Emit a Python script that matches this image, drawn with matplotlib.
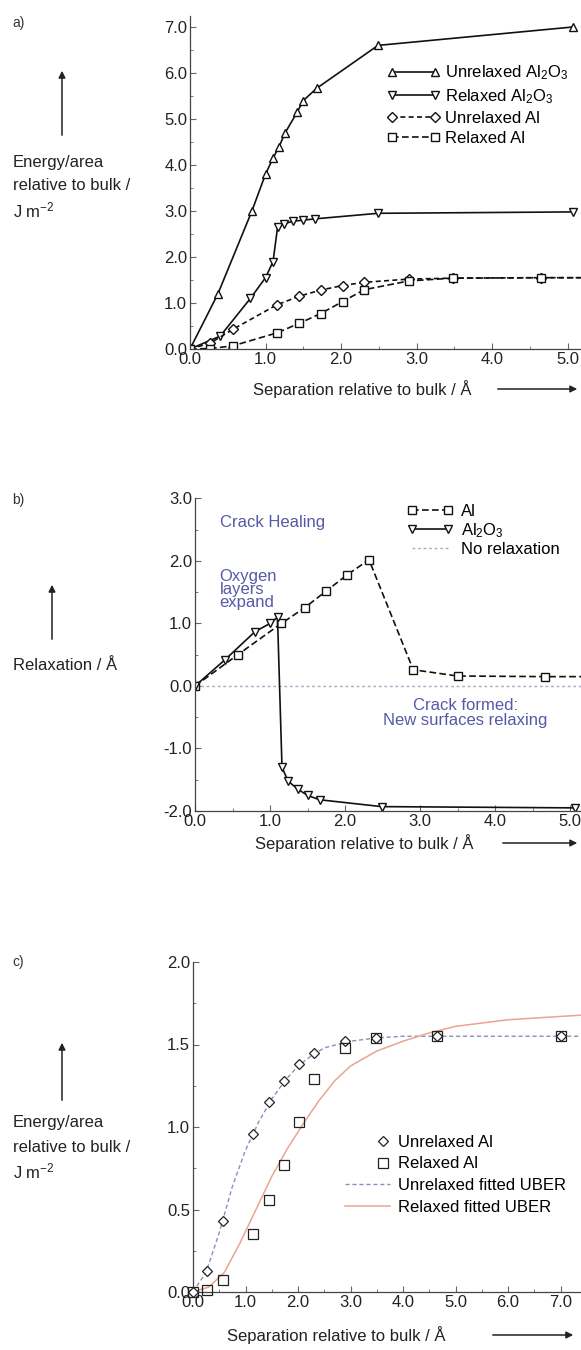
import matplotlib
matplotlib.use("Agg")
import matplotlib.pyplot as plt
import matplotlib.patches as mpatches
from matplotlib.lines import Line2D
from matplotlib.legend_handler import HandlerLine2D
from matplotlib.ticker import MultipleLocator, FormatStrFormatter

plt.rcParams['font.family'] = ['Liberation Sans', 'DejaVu Sans']
plt.rcParams['mathtext.fontset'] = 'custom'
plt.rcParams['mathtext.rm'] = 'Liberation Sans'
plt.rcParams['mathtext.it'] = 'Liberation Sans'
FS = 12

# ---- panel a data ----
a_al2o3_x = [0, 0.37, 0.82, 1.0, 1.1, 1.18, 1.26, 1.42, 1.5, 1.68, 2.49, 5.07]
a_unrel_al2o3 = [0, 1.2, 3.0, 3.8, 4.15, 4.4, 4.7, 5.15, 5.4, 5.67, 6.6, 7.0]
a_rel_al2o3_x = [0, 0.4, 0.8, 1.0, 1.1, 1.16, 1.24, 1.37, 1.5, 1.66, 2.49, 5.07]
a_rel_al2o3 = [0, 0.28, 1.1, 1.55, 1.9, 2.65, 2.72, 2.78, 2.8, 2.83, 2.95, 2.98]

# Al data (shared by panels a and c)
al_x = [0, 0.27, 0.57, 1.15, 1.45, 1.73, 2.02, 2.31, 2.9, 3.48, 4.65, 7.0]
unrel_al = [0, 0.13, 0.43, 0.96, 1.15, 1.28, 1.38, 1.45, 1.52, 1.54, 1.55, 1.55]
rel_al = [0, 0.01, 0.07, 0.35, 0.56, 0.77, 1.03, 1.29, 1.48, 1.54, 1.55, 1.55]

# ---- panel b data ----
b_al_x = [0, 0.57, 1.15, 1.46, 1.75, 2.03, 2.32, 2.91, 3.5, 4.67, 7.0]
b_al = [0, 0.5, 1.0, 1.25, 1.52, 1.78, 2.02, 0.26, 0.16, 0.15, 0.15]
b_al2o3_x = [0, 0.4, 0.8, 1.0, 1.1, 1.16, 1.24, 1.37, 1.5, 1.66, 2.49, 5.07]
b_al2o3 = [0, 0.42, 0.87, 1.0, 1.1, -1.3, -1.52, -1.65, -1.75, -1.82, -1.93, -1.95]

# ---- panel c fitted curves ----
uber_unrel_x = [0, 0.25, 0.5, 0.75, 1.0, 1.25, 1.5, 1.75, 2.0, 2.25, 2.5, 3.0, 3.5, 4.0, 5.0, 6.0, 7.0, 7.5]
uber_unrel = [0, 0.12, 0.36, 0.64, 0.86, 1.03, 1.17, 1.28, 1.37, 1.43, 1.48, 1.52, 1.54, 1.55, 1.55, 1.55, 1.55, 1.55]
uber_rel_x = [0, 0.3, 0.6, 0.9, 1.2, 1.5, 1.8, 2.1, 2.4, 2.7, 3.0, 3.5, 4.0, 4.5, 5.0, 5.5, 6.0, 6.5, 7.0, 7.5]
uber_rel = [0, 0.03, 0.12, 0.30, 0.50, 0.70, 0.87, 1.02, 1.16, 1.28, 1.37, 1.46, 1.52, 1.57, 1.61, 1.63, 1.65, 1.66, 1.67, 1.68]

W, H = 581, 1350
fig = plt.figure(figsize=(W / 100, H / 100), dpi=100)

def px_axes(x0_px, y0_px, xmax, ymin, ymax, px_x, px_y):
    # x0_px, y0_px = pixel position of data (0, 0)
    width = xmax * px_x
    y_bot = y0_px - ymin * px_y
    height = (ymax - ymin) * px_y
    ax = fig.add_axes([x0_px / W, 1 - y_bot / H, width / W, height / H])
    ax.set_xlim(0, xmax)
    ax.set_ylim(ymin, ymax)
    return ax

def style(ax, xmaj, xmin_, ymaj, ymin_):
    for s in ['top', 'right']:
        ax.spines[s].set_visible(False)
    for s in ['left', 'bottom']:
        ax.spines[s].set_color('#444444')
        ax.spines[s].set_linewidth(0.9)
    ax.xaxis.set_major_locator(MultipleLocator(xmaj))
    ax.xaxis.set_minor_locator(MultipleLocator(xmin_))
    ax.yaxis.set_major_locator(MultipleLocator(ymaj))
    ax.yaxis.set_minor_locator(MultipleLocator(ymin_))
    ax.xaxis.set_major_formatter(FormatStrFormatter('%.1f'))
    ax.yaxis.set_major_formatter(FormatStrFormatter('%.1f'))
    ax.tick_params(which='both', direction='in', color='#666666', labelcolor='#222222')
    ax.tick_params(which='major', length=4, labelsize=FS, pad=2)
    ax.tick_params(which='minor', length=2)
    ax.patch.set_alpha(0)

def arrow(p0, p1):
    fig.patches.append(mpatches.FancyArrowPatch(
        (p0[0] / W, 1 - p0[1] / H), (p1[0] / W, 1 - p1[1] / H),
        transform=fig.transFigure, arrowstyle='-|>', mutation_scale=10,
        color='#222222', lw=1.1))

def side_labels(tag, tag_y, ylabel_lines, ylabel_y, arrow_x, arrow_y0, arrow_y1,
                xlabel_x, xlabel_y, xarrow0, xarrow1):
    fig.text(12 / W, 1 - tag_y / H, tag, fontsize=10, color='#333333', va='center')
    for i, line in enumerate(ylabel_lines):
        fig.text(13 / W, 1 - (ylabel_y + 24 * i) / H, line, fontsize=FS, va='center',
                 color='#222222')
    arrow((arrow_x, arrow_y0), (arrow_x, arrow_y1))
    fig.text(xlabel_x / W, 1 - xlabel_y / H, 'Separation relative to bulk / Å',
             fontsize=FS, ha='center', va='center', color='#222222')
    arrow((xarrow0, xlabel_y), (xarrow1, xlabel_y))

class RightMarker(HandlerLine2D):
    # single marker drawn near the right end of the handle box (no line)
    def get_xdata(self, legend, xdescent, ydescent, width, height, fontsize):
        xm = 0.85 * width - xdescent
        return [xm, xm], [xm]

mk = dict(markersize=6, markerfacecolor='white', markeredgecolor='#111111',
          markeredgewidth=1.0, color='#111111', linewidth=1.2)

# ---------------- panel a ----------------
axa = px_axes(190, 349, 5.18, 0, 7.25, 75.5, 46)
style(axa, 1, 0.5, 1, 0.5)
axa.plot(a_al2o3_x, a_unrel_al2o3, '-', marker='^', label='Unrelaxed Al$_2$O$_3$', **mk)
axa.plot(a_rel_al2o3_x, a_rel_al2o3, '-', marker='v', label='Relaxed Al$_2$O$_3$', **mk)
axa.plot(al_x, unrel_al, '--', marker='D', dashes=(3, 2), label='Unrelaxed Al',
         **{**mk, 'markersize': 5})
axa.plot(al_x, rel_al, '--', marker='s', dashes=(4, 2), label='Relaxed Al',
         **{**mk, 'markersize': 5.5})
axa.legend(loc='upper left', bbox_to_anchor=(0.486, 0.876), frameon=False,
           numpoints=2, handlelength=3.2, handletextpad=0.3, labelspacing=0.3,
           fontsize=FS, borderaxespad=0)
side_labels('a)', 23, ['Energy/area', 'relative to bulk /', 'J m$^{-2}$'], 162,
            62, 138, 68, 362, 389, 495, 580)

# ---------------- panel b ----------------
axb = px_axes(195, 686, 5.15, -2.0, 3.0, 75, 62.5)
style(axb, 1, 0.5, 1, 0.5)
axb.axhline(0, color='#a8abc8', linestyle=(0, (2, 2)), linewidth=1.0, label='No relaxation')
axb.plot(b_al_x, b_al, '--', marker='s', dashes=(4, 2), label='Al', **{**mk, 'markersize': 5.5})
axb.plot(b_al2o3_x, b_al2o3, '-', marker='v', label='Al$_2$O$_3$', **mk)
h, l = axb.get_legend_handles_labels()
axb.legend([h[1], h[2], h[0]], [l[1], l[2], l[0]], loc='upper left',
           bbox_to_anchor=(0.531, 1.005), frameon=False, numpoints=2,
           handlelength=2.75, handletextpad=0.5, labelspacing=0.15, fontsize=FS,
           borderaxespad=0)
blue = '#5659a6'
axb.text(0.33, 2.61, 'Crack Healing', color=blue, fontsize=FS, va='center')
axb.text(0.33, 1.54, 'Oxygen\nlayers\nexpand', color=blue, fontsize=FS, va='center',
         linespacing=0.85)
axb.text(3.6, -0.44, 'Crack formed:\nNew surfaces relaxing', color=blue, fontsize=FS,
         ha='center', va='center', linespacing=1.0)
side_labels('b)', 500, ['Relaxation / Å'], 665, 52, 642, 582, 364, 843, 500, 580)

# ---------------- panel c ----------------
axc = px_axes(193, 1292, 7.39, 0, 2.0, 52.5, 165)
style(axc, 1, 0.5, 0.5, 0.25)
axc.plot(uber_unrel_x, uber_unrel, color='#8a8fbd', linestyle=(0, (3, 2)), linewidth=1.0,
         zorder=1)
axc.plot(uber_rel_x, uber_rel, color='#eba392', linewidth=1.1, zorder=1)
p_unrel, = axc.plot(al_x, unrel_al, linestyle='none', marker='D', markersize=5.5,
                    markerfacecolor='white', markeredgecolor='#222222', markeredgewidth=0.9,
                    label='Unrelaxed Al', clip_on=False, zorder=3)
p_rel, = axc.plot(al_x, rel_al, linestyle='none', marker='s', markersize=7,
                  markerfacecolor='none', markeredgecolor='#222222', markeredgewidth=0.9,
                  label='Relaxed Al', clip_on=False, zorder=3)
hc = [p_unrel, p_rel,
      Line2D([], [], color='#8a8fbd', linestyle=(0, (3, 2)), linewidth=1.0),
      Line2D([], [], color='#eba392', linewidth=1.1)]
axc.legend(hc, ['Unrelaxed Al', 'Relaxed Al', 'Unrelaxed fitted UBER',
                'Relaxed fitted UBER'], loc='upper left',
           bbox_to_anchor=(0.374, 0.497), frameon=False, numpoints=1,
           handlelength=2.7, handletextpad=0.5, labelspacing=0.41, fontsize=FS,
           borderaxespad=0,
           handler_map={p_unrel: RightMarker(), p_rel: RightMarker()})
side_labels('c)', 962, ['Energy/area', 'relative to bulk /', 'J m$^{-2}$'], 1123,
            62, 1103, 1040, 336, 1335, 490, 576)

fig.savefig('out.png', dpi=100)
